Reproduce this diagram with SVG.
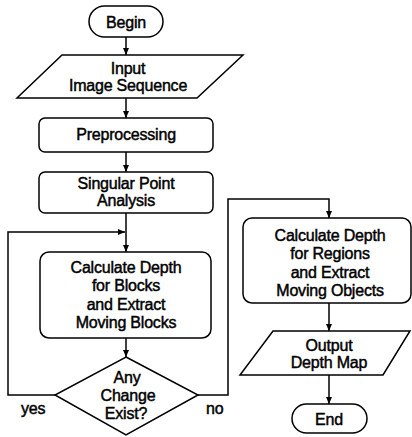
<svg xmlns="http://www.w3.org/2000/svg" width="412" height="437" viewBox="0 0 412 437">
<defs>
<marker id="ah" markerWidth="8" markerHeight="8" refX="7" refY="4" orient="auto" markerUnits="userSpaceOnUse">
<path d="M0,1 L7,4 L0,7 Z" fill="#000"/>
</marker>
<style>
.s{fill:#fff;stroke:#000;stroke-width:1.5}
.c{fill:none;stroke:#000;stroke-width:1.5}
text{font-family:"Liberation Sans",Arial,sans-serif;font-size:16px;fill:#000;text-anchor:middle;stroke:#000;stroke-width:0.45;letter-spacing:-0.2px}
.l{text-anchor:start}
</style>
</defs>
<rect width="412" height="437" fill="#fff"/>
<g id="connectors">
<path class="c" d="M126,37 V55" marker-end="url(#ah)"/>
<path class="c" d="M126,98 V118" marker-end="url(#ah)"/>
<path class="c" d="M126,152 V172" marker-end="url(#ah)"/>
<path class="c" d="M126,213 V252" marker-end="url(#ah)"/>
<path class="c" d="M55,395 H8 V232 H125" marker-end="url(#ah)"/>
<path class="c" d="M126,338 V357" marker-end="url(#ah)"/>
<path class="c" d="M198,395 H228 V199 H329 V218" marker-end="url(#ah)"/>
<path class="c" d="M329,303 V331" marker-end="url(#ah)"/>
<path class="c" d="M329,375 V404" marker-end="url(#ah)"/>
<text class="l" x="21" y="414">yes</text>
<text class="l" x="206" y="414">no</text>
</g>
<g id="begin">
<rect class="s" x="89" y="6" width="74" height="31" rx="15.5"/>
<text x="126" y="28">Begin</text>
</g>
<g id="input">
<polygon class="s" points="62,55 243,55 197,98 17,98"/>
<text x="128" y="74">Input</text>
<text x="128" y="91">Image Sequence</text>
</g>
<g id="preprocessing">
<rect class="s" x="39" y="118" width="174" height="34" rx="6"/>
<text x="126" y="140">Preprocessing</text>
</g>
<g id="singular">
<rect class="s" x="39" y="172" width="174" height="41" rx="6"/>
<text x="126" y="189">Singular Point</text>
<text x="126" y="206">Analysis</text>
</g>
<g id="calcBlocks">
<rect class="s" x="40" y="252" width="171" height="86" rx="9"/>
<text x="126" y="273">Calculate Depth</text>
<text x="126" y="291">for Blocks</text>
<text x="126" y="310">and Extract</text>
<text x="126" y="328">Moving Blocks</text>
</g>
<g id="decision">
<polygon class="s" points="126,357 198,395 126,435 55,395"/>
<text x="127" y="383">Any</text>
<text x="128" y="401">Change</text>
<text x="126" y="419">Exist?</text>
</g>
<g id="calcRegions">
<rect class="s" x="243" y="218" width="168" height="85" rx="9"/>
<text x="330" y="241">Calculate Depth</text>
<text x="330" y="259">for Regions</text>
<text x="330" y="278">and Extract</text>
<text x="330" y="296">Moving Objects</text>
</g>
<g id="output">
<polygon class="s" points="273,331 410,331 383,375 240,375"/>
<text x="329" y="351">Output</text>
<text x="329" y="368">Depth Map</text>
</g>
<g id="end">
<rect class="s" x="292" y="404" width="75" height="29" rx="14.5"/>
<text x="329" y="425">End</text>
</g>
</svg>
